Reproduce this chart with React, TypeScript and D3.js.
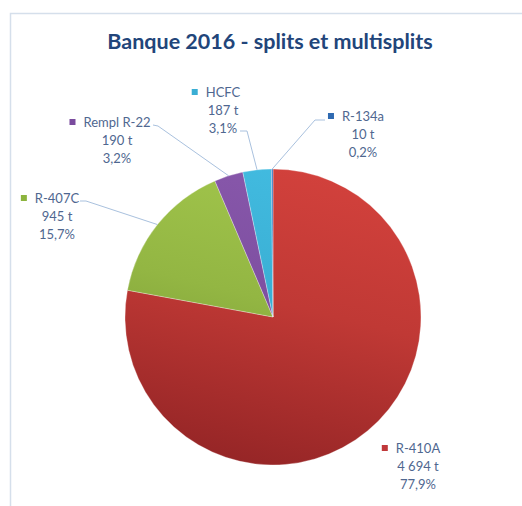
import React, { useEffect, useRef } from "react";
import * as d3 from "d3";

const title = "Banque 2016 - splits et multisplits";
const categories = ["R-410A", "R-407C", "Rempl R-22", "HCFC", "R-134a"];
const tonnes = [4694, 945, 190, 187, 10];
const colorsTop = ["#d2413c", "#a2c64c", "#8858ab", "#42bbe0", "#3877c0"];
const colorsBottom = ["#952526", "#6f8f2e", "#653a88", "#2794b8", "#275a98"];
const keyColors = ["#c0383a", "#8cb43e", "#7a4b9e", "#3aaed4", "#2f6ab1"];

// label layout: center x of name, baseline of first line, leader start + elbow
const labelLayout = [
  { cx: 418, y: 453, leader: null },
  { cx: 57, y: 203, leader: [[80, 201], [86, 201]] },
  { cx: 117, y: 127, leader: [[153, 125], [158, 126]] },
  { cx: 223, y: 97, leader: [[240, 131], [247, 131]] },
  { cx: 363, y: 121, leader: [[325, 120], [315, 120]] },
];

const W = 522;
const H = 506;
const CX = 273;
const CY = 317;
const R = 148;
const FONT = "Lato, 'Open Sans', sans-serif";

export default function App() {
  const ref = useRef<SVGSVGElement>(null);

  useEffect(() => {
    const svg = d3.select(ref.current);
    svg.selectAll("*").remove();

    const total = d3.sum(tonnes);
    const loc = d3.formatLocale({ decimal: ",", thousands: " ", grouping: [3], currency: ["", ""] });
    const fmtT = loc.format(",d");
    const fmtP = loc.format(".1f");

    const data = categories.map((c, i) => ({ name: c, value: tonnes[i], i }));

    const defs = svg.append("defs");
    data.forEach((d) => {
      const g = defs
        .append("linearGradient")
        .attr("id", "grad" + d.i)
        .attr("gradientUnits", "userSpaceOnUse")
        .attr("x1", R * 0.25)
        .attr("x2", -R * 0.25)
        .attr("y1", -R)
        .attr("y2", R);
      g.append("stop").attr("offset", "0%").attr("stop-color", colorsTop[d.i]);
      g.append("stop").attr("offset", "45%").attr("stop-color", d3.interpolateRgb(colorsTop[d.i], colorsBottom[d.i])(0.3));
      g.append("stop").attr("offset", "100%").attr("stop-color", colorsBottom[d.i]);
    });

    // background / frame
    svg.append("rect").attr("width", W).attr("height", H).attr("fill", "#ffffff");
    svg
      .append("path")
      .attr("d", `M10.5,${H} L10.5,13.5 L${W},13.5`)
      .attr("fill", "none")
      .attr("stroke", "#d5dfeb")
      .attr("stroke-width", 1.5);

    svg
      .append("text")
      .attr("x", 270)
      .attr("y", 49)
      .attr("text-anchor", "middle")
      .attr("font-family", FONT)
      .attr("font-weight", "bold")
      .attr("font-size", 21.5)
      .attr("fill", "#22457a")
      .text(title);

    const pie = d3
      .pie<any>()
      .sort(null)
      .value((d) => d.value)
      .startAngle(0)
      .endAngle(2 * Math.PI);
    const arcs = pie(data);
    const arc = d3.arc<any>().innerRadius(0).outerRadius(R);

    const g = svg.append("g").attr("transform", `translate(${CX},${CY})`);
    g.selectAll("path")
      .data(arcs)
      .join("path")
      .attr("d", arc)
      .attr("fill", (d: any) => `url(#grad${d.data.i})`)
      .attr("stroke", "#ffffff")
      .attr("stroke-width", 0.3);

    // leader lines
    arcs.forEach((a: any) => {
      const lay = labelLayout[a.data.i];
      if (!lay.leader) return;
      const mid = (a.startAngle + a.endAngle) / 2;
      const px = CX + R * Math.sin(mid);
      const py = CY - R * Math.cos(mid);
      const pts = [...lay.leader, [px, py]];
      svg
        .append("path")
        .attr("d", d3.line()(pts as [number, number][]))
        .attr("fill", "none")
        .attr("stroke", "#a9c1de")
        .attr("stroke-width", 1);
    });

    // labels
    data.forEach((d) => {
      const lay = labelLayout[d.i];
      const lg = svg
        .append("g")
        .attr("font-family", FONT)
        .attr("font-size", 13)
        .attr("fill", "#4f6790")
        .attr("text-anchor", "middle");
      const nameText = lg.append("text").attr("x", lay.cx).attr("y", lay.y).text(d.name);
      const w = (nameText.node() as SVGTextElement).getComputedTextLength();
      lg.append("rect")
        .attr("x", lay.cx - w / 2 - 14)
        .attr("y", lay.y - 8)
        .attr("width", 6)
        .attr("height", 6)
        .attr("fill", keyColors[d.i]);
      lg.append("text")
        .attr("x", lay.cx)
        .attr("y", lay.y + 18)
        .text(fmtT(d.value) + " t");
      lg.append("text")
        .attr("x", lay.cx)
        .attr("y", lay.y + 36)
        .text(fmtP((d.value / total) * 100) + "%");
    });
  }, []);

  return (
    <svg
      ref={ref}
      width={W}
      height={H}
      style={{ position: "absolute", left: 0, top: 0, display: "block" }}
    />
  );
}
